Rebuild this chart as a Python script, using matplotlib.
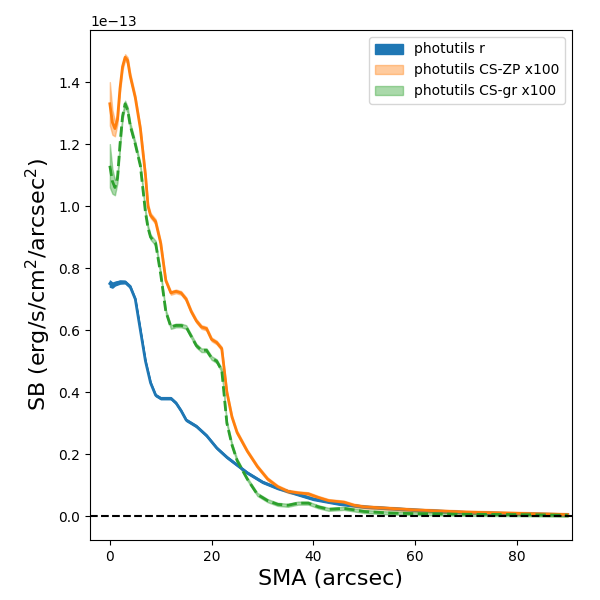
import matplotlib
matplotlib.use("Agg")
import matplotlib.pyplot as plt
import numpy as np

sma_b = [0,0.5,1,2,3,4,5,6,7,8,9,10,11,12,13,14,15,17,19,21,23,25,27,30,33,36,40,45,50,60,70,80,90]
sb_b = [0.75,0.745,0.75,0.755,0.755,0.74,0.70,0.60,0.50,0.43,0.39,0.38,0.38,0.38,0.365,0.34,0.31,0.29,0.26,0.22,0.19,0.165,0.14,0.11,0.09,0.075,0.055,0.04,0.03,0.02,0.012,0.008,0.005]
err_b = [0.01,0.008,0.006,0.005,0.004,0.004,0.003,0.003,0.003,0.003,0.003,0.003,0.003,0.003,0.003,0.003,0.003,0.003,0.003,0.003,0.003,0.003,0.003,0.003,0.003,0.003,0.003,0.003,0.003,0.003,0.003,0.003,0.003]

sma = [0,0.5,1,1.5,2,2.5,3,3.5,4,5,6,7,7.5,8,9,10,11,12,13,14,15,16,17,18,19,20,21,22,23,24,25,27,29,31,33,35,37,39,41,43,46,48,50,55,60,70,80,90]
sb_zp = [1.33,1.27,1.25,1.28,1.38,1.45,1.48,1.47,1.42,1.35,1.25,1.10,1.00,0.97,0.95,0.88,0.76,0.72,0.725,0.72,0.70,0.66,0.63,0.61,0.605,0.57,0.56,0.54,0.40,0.32,0.27,0.21,0.16,0.12,0.095,0.08,0.075,0.072,0.06,0.05,0.045,0.035,0.03,0.025,0.02,0.013,0.009,0.005]
sb_gr = [1.13,1.08,1.06,1.09,1.20,1.29,1.33,1.31,1.26,1.20,1.13,0.98,0.93,0.90,0.88,0.78,0.66,0.61,0.615,0.615,0.61,0.58,0.55,0.535,0.535,0.51,0.50,0.47,0.30,0.23,0.18,0.12,0.07,0.05,0.038,0.035,0.042,0.042,0.03,0.022,0.025,0.02,0.015,0.01,0.008,0.006,0.005,0.003]
err = [0.07,0.04,0.025,0.015,0.012,0.01,0.01,0.01,0.01,0.008,0.008,0.008,0.008,0.008,0.008,0.008,0.006,0.006,0.006,0.006,0.006,0.006,0.006,0.006,0.006,0.006,0.006,0.006,0.006,0.006,0.006,0.005,0.005,0.005,0.005,0.005,0.005,0.005,0.005,0.005,0.005,0.005,0.005,0.005,0.005,0.005,0.005,0.005]

s = 1e-13
sb_b_a, err_b_a = np.array(sb_b)*s, np.array(err_b)*s
zp, gr, e = np.array(sb_zp)*s, np.array(sb_gr)*s, np.array(err)*s

fig = plt.figure(figsize=(6,6), dpi=100)
ax = fig.add_axes([0.15, 0.1, 0.803, 0.85])
ax.fill_between(sma_b, sb_b_a-err_b_a, sb_b_a+err_b_a, color='C0', label='photutils r')
ax.plot(sma_b, sb_b_a, color='C0', lw=2)
ax.fill_between(sma, zp-e, zp+e, color='C1', alpha=0.4, label='photutils CS-ZP x100')
ax.plot(sma, zp, color='C1', lw=2)
ax.fill_between(sma, gr-e, gr+e, color='C2', alpha=0.4, label='photutils CS-gr x100')
ax.plot(sma, gr, color='C2', lw=2, ls='--')
ax.axhline(0, color='k', ls='--')
ax.set_xlim(-3.9, 90.8)
ax.set_ylim(-0.077e-13, 1.568e-13)
ax.set_xlabel('SMA (arcsec)', fontsize=16)
ax.set_ylabel('SB (erg/s/cm$^2$/arcsec$^2$)', fontsize=16)
ax.legend(loc='upper right')
fig.savefig('out.png')
